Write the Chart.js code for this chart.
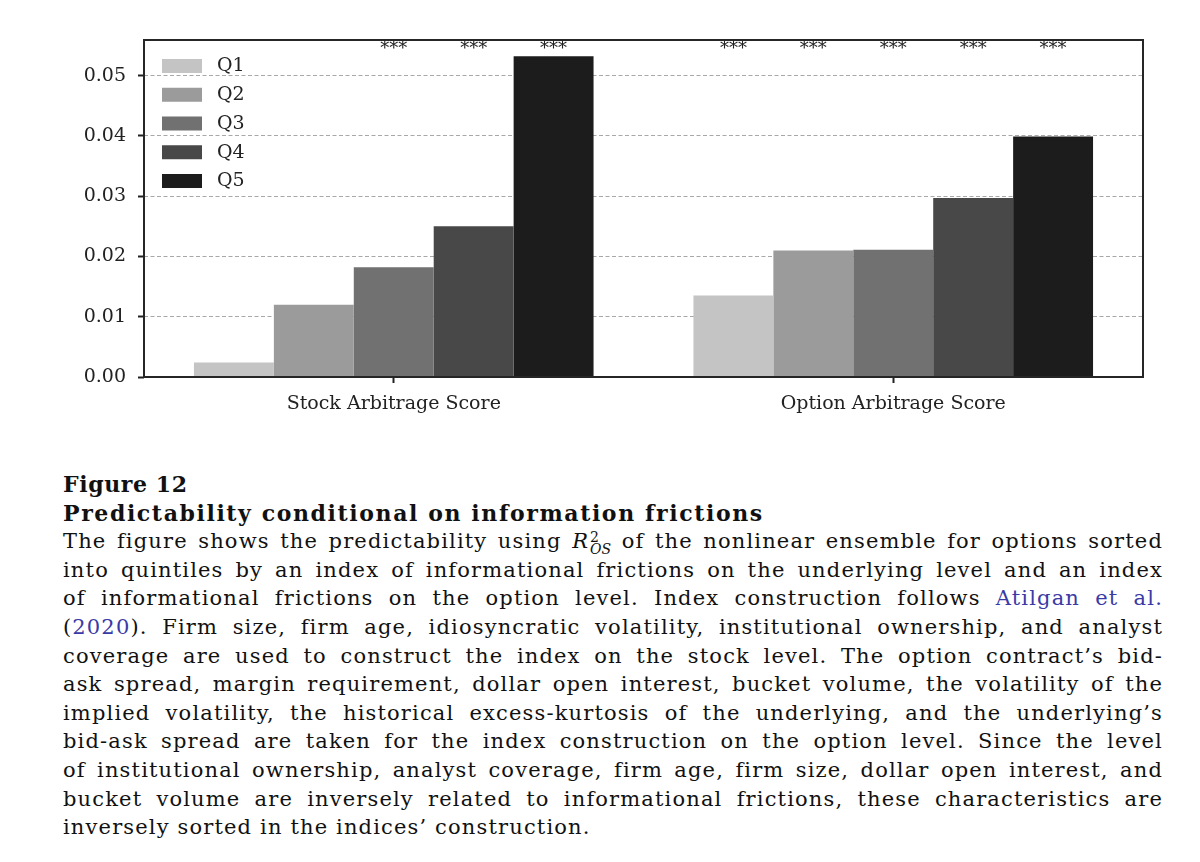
<!DOCTYPE html>
<html>
<head>
<meta charset="utf-8">
<script src="https://cdn.jsdelivr.net/npm/chart.js@4/dist/chart.umd.min.js"></script>
<style>
  body { margin: 0; background: #fff; width: 1200px; height: 862px; position: relative; overflow: hidden; }
  #chartBox { position: absolute; left: 0; top: 0; width: 1200px; height: 420px; }
  #caption { position: absolute; left: 63px; top: 470px; width: 1100px; font-family: "DejaVu Serif", serif; font-size: 21px; letter-spacing: 1.15px; line-height: 28.6px; color: #111; }
  #caption .b { font-weight: bold; font-size: 22px; letter-spacing: 1.6px; }
  #caption .fig { letter-spacing: 0.6px; }
  #caption .j { text-align: justify; text-align-last: justify; white-space: nowrap; }
  #caption a { color: #3a3aa6; text-decoration: none; }
  .r2 { font-style: italic; }
  .ss { display: inline-block; vertical-align: -6px; line-height: 12px; font-size: 14px; margin-left: 1px; letter-spacing: 0; }
  .ss span { display: block; }
</style>
</head>
<body>
<div id="chartBox"><canvas id="myChart"></canvas></div>
<div id="caption">
  <div class="b fig">Figure 12</div>
  <div class="b">Predictability conditional on information frictions</div>
  <div class="j">The figure shows the predictability using <span class="r2">R</span><span class="ss"><span>2</span><span class="r2">OS</span></span> of the nonlinear ensemble for options sorted</div>
  <div class="j">into quintiles by an index of informational frictions on the underlying level and an index</div>
  <div class="j">of informational frictions on the option level. Index construction follows <a>Atilgan et al.</a></div>
  <div class="j">(<a>2020</a>). Firm size, firm age, idiosyncratic volatility, institutional ownership, and analyst</div>
  <div class="j">coverage are used to construct the index on the stock level. The option contract’s bid-</div>
  <div class="j">ask spread, margin requirement, dollar open interest, bucket volume, the volatility of the</div>
  <div class="j">implied volatility, the historical excess-kurtosis of the underlying, and the underlying’s</div>
  <div class="j">bid-ask spread are taken for the index construction on the option level. Since the level</div>
  <div class="j">of institutional ownership, analyst coverage, firm age, firm size, dollar open interest, and</div>
  <div class="j">bucket volume are inversely related to informational frictions, these characteristics are</div>
  <div>inversely sorted in the indices’ construction.</div>
</div>
<script>
// categories and quintile series
const categories = ["Stock Arbitrage Score", "Option Arbitrage Score"];
const quintiles = ["Q1", "Q2", "Q3", "Q4", "Q5"];
const q1Values = [0.0024, 0.0135];
const q2Values = [0.0120, 0.0210];
const q3Values = [0.0182, 0.0211];
const q4Values = [0.0250, 0.0297];
const q5Values = [0.0532, 0.0399];

// significance markers above each bar
const q1Stars = ["", "***"];
const q2Stars = ["", "***"];
const q3Stars = ["***", "***"];
const q4Stars = ["***", "***"];
const q5Stars = ["***", "***"];

const yTicks = [0, 0.01, 0.02, 0.03, 0.04, 0.05];
const yMax = 0.0559;

const quintileColors = ["#c4c4c4", "#9b9b9b", "#717171", "#484848", "#1c1c1c"];
const allValues = [q1Values, q2Values, q3Values, q4Values, q5Values];
const allStars = [q1Stars, q2Stars, q3Stars, q4Stars, q5Stars];

const serif = "'DejaVu Serif', serif";

// legend inside the plot (top left), star labels and the box frame
const framePlugin = {
  id: "frame",
  afterDatasetsDraw(chart) {
    const { ctx, chartArea } = chart;
    ctx.save();
    // stars above the bars
    ctx.font = "18px " + serif;
    ctx.fillStyle = "#222";
    ctx.textAlign = "center";
    ctx.textBaseline = "alphabetic";
    allStars.forEach((stars, i) => {
      const meta = chart.getDatasetMeta(i);
      meta.data.forEach((bar, j) => {
        if (stars[j]) ctx.fillText(stars[j], bar.x, chartArea.top + 14);
      });
    });
    // legend
    ctx.font = "19px " + serif;
    ctx.textAlign = "left";
    ctx.textBaseline = "middle";
    chart.data.datasets.forEach((ds, i) => {
      const x = chartArea.left + 18;
      const y = chartArea.top + 19 + i * 28.75;
      ctx.fillStyle = ds.backgroundColor;
      ctx.fillRect(x, y, 40, 14);
      ctx.fillStyle = "#222";
      ctx.fillText(ds.label, x + 55, y + 7.5);
    });
    ctx.restore();
  },
  afterDraw(chart) {
    const { ctx, chartArea } = chart;
    ctx.save();
    ctx.strokeStyle = "#262626";
    ctx.lineWidth = 2;
    ctx.strokeRect(chartArea.left, chartArea.top, chartArea.right - chartArea.left, chartArea.bottom - chartArea.top);
    ctx.restore();
  },
};

const ctx = document.getElementById("myChart").getContext("2d");
const myChart = new Chart(ctx, {
  type: "bar",
  data: {
    labels: categories,
    datasets: quintiles.map((q, i) => ({
      label: q,
      data: allValues[i],
      backgroundColor: quintileColors[i],
      borderWidth: 0,
    })),
  },
  options: {
    responsive: true,
    maintainAspectRatio: false,
    animation: false,
    categoryPercentage: 0.8,
    barPercentage: 1.0,
    layout: { padding: { left: 0, right: 57, top: 40, bottom: 0 } },
    plugins: {
      tooltip: { enabled: false },
      legend: { display: false },
    },
    scales: {
      x: {
        afterFit(scale) { scale.height = 43; },
        grid: {
          offset: false,
          drawOnChartArea: false,
          drawTicks: true,
          tickLength: 6,
          tickColor: "#222",
          tickWidth: 2,
        },
        border: { display: false },
        ticks: { color: "#222", padding: 10, font: { family: serif, size: 19 } },
      },
      y: {
        min: 0,
        max: yMax,
        afterFit(scale) { scale.width = 144; },
        afterBuildTicks(scale) { scale.ticks = yTicks.map((v) => ({ value: v })); },
        grid: {
          color: "#a8a8a8",
          lineWidth: 1,
          drawTicks: true,
          tickLength: 6,
          tickColor: "#222",
          tickWidth: 2,
          tickBorderDash: [],
        },
        border: { display: false, dash: [4, 2.5] },
        ticks: {
          color: "#222",
          padding: 12,
          font: { family: serif, size: 19 },
          callback: (v) => Number(v).toFixed(2),
        },
      },
    },
  },
  plugins: [framePlugin],
});
</script>
</body>
</html>
